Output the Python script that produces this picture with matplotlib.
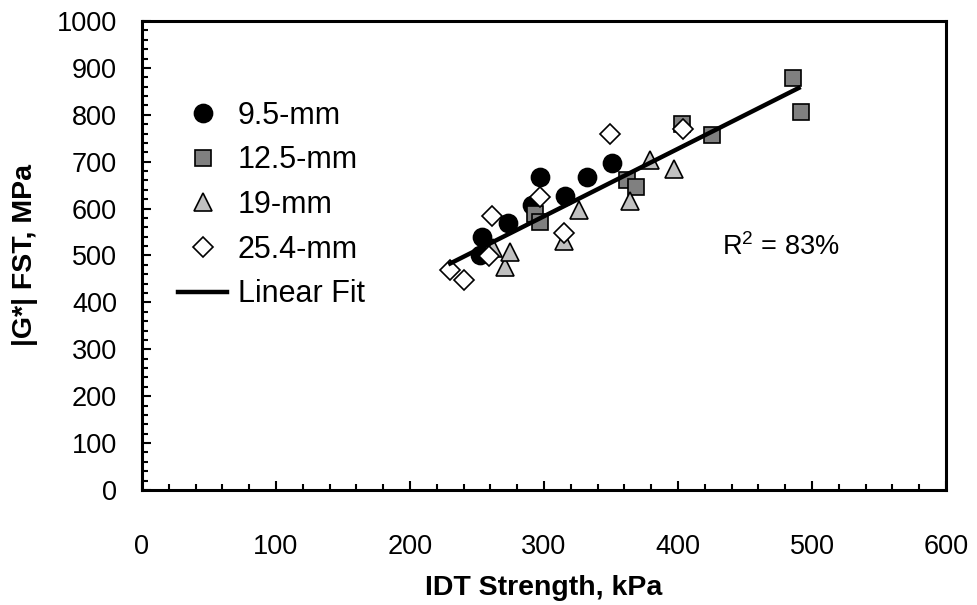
import matplotlib
matplotlib.use("Agg")
import matplotlib.pyplot as plt
import numpy as np
from matplotlib.ticker import MultipleLocator

plt.rcParams['font.family'] = ['Liberation Sans', 'DejaVu Sans']
plt.rcParams['mathtext.fontset'] = 'custom'
plt.rcParams['mathtext.rm'] = 'Liberation Sans'
plt.rcParams['mathtext.it'] = 'Liberation Sans:italic'

# Data
x_95 = [252, 254, 273, 291, 297, 316, 332, 351]
y_95 = [500, 540, 569, 607, 668, 627, 667, 698]

x_125 = [293, 297, 362, 369, 403, 425, 486, 492]
y_125 = [588, 572, 660, 645, 780, 757, 878, 806]

x_19 = [262, 271, 275, 315, 326, 364, 379, 397]
y_19 = [515, 476, 508, 530, 598, 617, 703, 684]

x_254 = [230, 240, 259, 261, 297, 315, 349, 404]
y_254 = [470, 447, 498, 585, 625, 548, 758, 769]

fit_slope = 1.439
fit_intercept = 152.0
fit_xrange = [230, 490]

fig = plt.figure(figsize=(9.77, 6.05), dpi=100)
ax = fig.add_axes([0.1453, 0.1901, 0.823, 0.7752])

ax.plot(x_95, y_95, 'o', ms=13, mfc='black', mec='black', mew=1.2, label='9.5-mm', zorder=3)
ax.plot(x_125, y_125, 's', ms=11, mfc='#808080', mec='black', mew=1.2, label='12.5-mm', zorder=3)
ax.plot(x_19, y_19, '^', ms=13, mfc='#c0c0c0', mec='black', mew=1.2, label='19-mm', zorder=3)
ax.plot(x_254, y_254, 'D', ms=10, mfc='white', mec='black', mew=1.2, label='25.4-mm', zorder=3)

fx = np.array(fit_xrange, dtype=float)
ax.plot(fx, fit_slope * fx + fit_intercept, '-', color='black', lw=3.2, label='Linear Fit', zorder=4)

ax.set_xlim(0, 600)
ax.set_ylim(0, 1000)
ax.xaxis.set_major_locator(MultipleLocator(100))
ax.xaxis.set_minor_locator(MultipleLocator(20))
ax.yaxis.set_major_locator(MultipleLocator(100))
ax.yaxis.set_minor_locator(MultipleLocator(20))
ax.tick_params(which='both', direction='in', width=1.5, labelsize=19.5)
ax.tick_params(which='major', length=6.5)
ax.tick_params(which='minor', length=4.5)
ax.tick_params(axis='x', which='major', pad=32)
ax.tick_params(axis='y', which='major', pad=18)
for s in ax.spines.values():
    s.set_linewidth(2.2)

ax.set_xlabel('IDT Strength, kPa', fontsize=20.5, fontweight='bold')
ax.set_ylabel('|G*| FST, MPa', fontsize=20.5, fontweight='bold')
ax.xaxis.set_label_coords(0.5, -0.209)
ax.yaxis.set_label_coords(-0.1455, 0.5)
ax.xaxis.label.set_va('center')
ax.yaxis.label.set_va('center')

ax.text(433, 518, r'R$^2$ = 83%', fontsize=19.5, va='center', ha='left')

leg = ax.legend(loc='upper left', bbox_to_anchor=(0.045, 0.830), frameon=False,
                fontsize=22, handlelength=1.6, handletextpad=0.35, labelspacing=0.48,
                borderpad=0, borderaxespad=0, numpoints=1)

fig.savefig('out.png', dpi=100)
